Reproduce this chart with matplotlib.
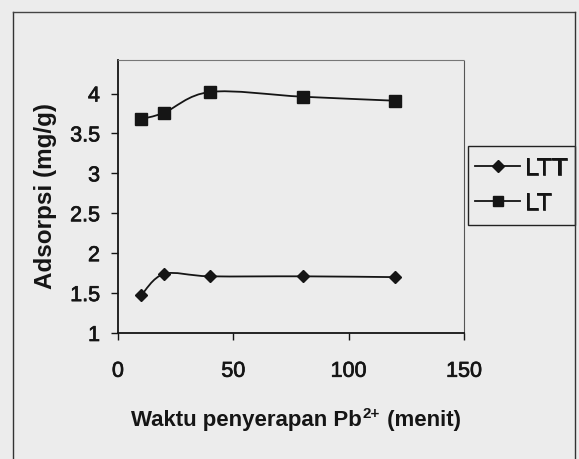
import matplotlib
matplotlib.use("Agg")
import matplotlib.pyplot as plt
from matplotlib.path import Path
from matplotlib.patches import PathPatch, Rectangle
from matplotlib.lines import Line2D
import matplotlib.patheffects as pe
import numpy as np

plt.rcParams['font.family'] = ['Liberation Sans', 'DejaVu Sans']

# Data
waktu = [10, 20, 40, 80, 120]
ltt = [1.47, 1.74, 1.71, 1.71, 1.70]
lt = [3.68, 3.76, 4.02, 3.96, 3.91]
series_names = ["LTT", "LT"]
x_ticks = [0, 50, 100, 150]
y_ticks = [1, 1.5, 2, 2.5, 3, 3.5, 4]
xlabel_parts = ["Waktu penyerapan Pb", "2+", " (menit)"]
ylabel = "Adsorpsi (mg/g)"

BG = '#ececec'
INK = '#151515'
thick = [pe.withStroke(linewidth=0.5, foreground=INK)]

fig = plt.figure(figsize=(5.79, 4.60), dpi=100, facecolor=BG)
ax = fig.add_axes([118/579, 1-334/460, (464-118)/579, (334-61)/460])
ax.set_facecolor(BG)
ax.set_xlim(0, 150)
ax.set_ylim(1, 4.42)


def smooth_path(xs, ys):
    pts = np.column_stack([xs, ys]).astype(float)
    n = len(pts)
    verts = [pts[0]]
    codes = [Path.MOVETO]
    for i in range(n - 1):
        p0 = pts[i - 1] if i > 0 else pts[i]
        p1 = pts[i]
        p2 = pts[i + 1]
        p3 = pts[i + 2] if i + 2 < n else pts[i + 1]
        c1 = p1 + (p2 - p0) / 6.0
        c2 = p2 - (p3 - p1) / 6.0
        verts += [c1, c2, p2]
        codes += [Path.CURVE4] * 3
    return Path(verts, codes)


for ys in (ltt, lt):
    ax.add_patch(PathPatch(smooth_path(waktu, ys), facecolor='none',
                           edgecolor=INK, lw=1.3, zorder=3))

ax.plot(waktu, ltt, linestyle='none', marker='D', ms=6.2, color=INK, zorder=4)
ax.plot(waktu, lt, linestyle='none', marker='s', ms=8.5, color=INK, zorder=4)

ax.set_xticks(x_ticks)
ax.set_yticks(y_ticks)
ax.set_xticklabels([str(v) for v in x_ticks])
ax.set_yticklabels([('%g' % v) for v in y_ticks])
ax.tick_params(axis='x', direction='out', length=5, width=1, pad=15,
               labelsize=15.5, colors=INK)
ax.tick_params(axis='y', direction='out', length=5, width=1, pad=8,
               labelsize=15.5, colors=INK)
for lab in ax.get_xticklabels() + ax.get_yticklabels():
    lab.set_path_effects(thick)
for s in ('left', 'bottom'):
    ax.spines[s].set_color(INK)
    ax.spines[s].set_linewidth(1.3)
ax.spines['top'].set_color('#777777')
ax.spines['top'].set_linewidth(0.8)
ax.spines['top'].set_linestyle((0, (3, 1)))
ax.spines['right'].set_color('#555555')
ax.spines['right'].set_linewidth(0.8)
ax.spines['right'].set_linestyle((0, (2, 1)))

# x label with superscript, built from pieces
renderer = fig.canvas.get_renderer()
W, H = 579.0, 460.0
sizes = [16, 11, 16]
dys = [0, 8, 0]
texts = []
widths = []
for part, fs, dy in zip(xlabel_parts, sizes, dys):
    t = fig.text(0, 0, part, fontsize=fs, fontweight='bold', color=INK,
                 ha='left', va='baseline')
    texts.append(t)
    widths.append(t.get_window_extent(renderer).width)
total = sum(widths) + 1
x0 = 296 - total / 2
base_y = H - 426
cur = x0
for t, w, dy in zip(texts, widths, dys):
    t.set_position((cur / W, (base_y + dy) / H))
    cur += w + (1 if t is texts[1] else 0)

fig.text(46/579, 1-196/460, ylabel, rotation=90,
         ha='center', va='center', fontsize=17.5, fontweight='bold', color=INK)

# outer frame
fig.add_artist(Line2D([13/579, 13/579], [0, 1-13/460], transform=fig.transFigure,
                      color='#333333', lw=1))
fig.add_artist(Line2D([13/579, 575/579], [1-13/460, 1-13/460], transform=fig.transFigure,
                      color='#444444', lw=1))
fig.add_artist(Line2D([575/579, 575/579], [0, 1-13/460], transform=fig.transFigure,
                      color='#333333', lw=1))

# legend box
fig.add_artist(Rectangle((468/579, 1-226/460), 107/579, 79/460,
                         transform=fig.transFigure, facecolor=BG,
                         edgecolor='#222222', lw=1))
handles = [Line2D([], [], color=INK, lw=1.3, marker='D', ms=6.2),
           Line2D([], [], color=INK, lw=1.3, marker='s', ms=7.5)]
leg = fig.legend(handles, series_names, loc='center',
                 bbox_to_anchor=(521/579, 1-186.5/460), frameon=False,
                 fontsize=18, handlelength=1.8, handletextpad=0.18,
                 labelspacing=0.45, borderpad=0, labelcolor=INK)
for t in leg.get_texts():
    t.set_path_effects(thick)

fig.savefig('out.png', dpi=100, facecolor=BG)
